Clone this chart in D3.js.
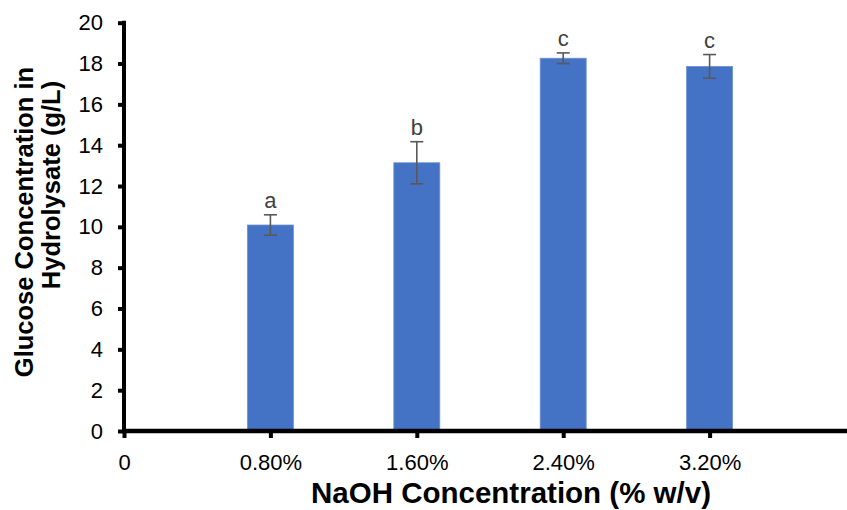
<!DOCTYPE html>
<html>
<head>
<meta charset="utf-8">
<script src="https://cdn.jsdelivr.net/npm/d3@7"></script>
<style>
  body { margin: 0; background: #fff; }
  text { font-family: "Liberation Sans", Arial, sans-serif; }
</style>
</head>
<body>
<div id="chart"></div>
<script>
// Chart data
var naoh = [0.8, 1.6, 2.4, 3.2];
var glucose = [10.09, 13.14, 18.26, 17.86];
var errors = [0.5, 1.03, 0.26, 0.58];
var letters = ["a", "b", "c", "c"];
var xTicks = [0, 0.8, 1.6, 2.4, 3.2];
var xTickLabels = ["0", "0.80%", "1.60%", "2.40%", "3.20%"];
var yTicks = [0, 2, 4, 6, 8, 10, 12, 14, 16, 18, 20];

var svgWidth = 847;
var svgHeight = 510;

var svg = d3.select("#chart")
  .append("svg")
  .attr("width", svgWidth)
  .attr("height", svgHeight);

// x is a linear scale, the axis runs off the right edge like the original
var xScale = d3.scaleLinear()
  .domain([0, 4])
  .range([124, 856]);

var yScale = d3.scaleLinear()
  .domain([0, 20])
  .range([431, 22.7]);

var barWidth = 46;

// bars
svg.selectAll(".bar")
  .data(naoh)
  .enter()
  .append("rect")
  .attr("class", "bar")
  .attr("x", (d) => xScale(d) - barWidth / 2)
  .attr("y", (d, i) => yScale(glucose[i]))
  .attr("width", barWidth)
  .attr("height", (d, i) => yScale(0) - yScale(glucose[i]))
  .attr("fill", "#4472c4")
  .attr("stroke", "#6f93d3")
  .attr("stroke-width", 0.8);

// error bars
var errGroup = svg.append("g")
  .attr("stroke", "#595959")
  .attr("stroke-width", 1.6);

naoh.forEach(function(d, i) {
  var cx = xScale(d);
  var top = yScale(glucose[i] + errors[i]);
  var bottom = yScale(glucose[i] - errors[i]);
  errGroup.append("line").attr("x1", cx).attr("x2", cx).attr("y1", top).attr("y2", bottom);
  errGroup.append("line").attr("x1", cx - 6.5).attr("x2", cx + 6.5).attr("y1", top).attr("y2", top);
  errGroup.append("line").attr("x1", cx - 6.5).attr("x2", cx + 6.5).attr("y1", bottom).attr("y2", bottom);
});

// significance letters
svg.selectAll(".letter")
  .data(letters)
  .enter()
  .append("text")
  .attr("x", (d, i) => xScale(naoh[i]))
  .attr("y", (d, i) => yScale(glucose[i] + errors[i]) - 7)
  .attr("text-anchor", "middle")
  .attr("font-size", "22px")
  .attr("fill", "#404040")
  .text((d) => d);

// y axis
var leftAxis = d3.axisLeft(yScale)
  .tickValues(yTicks)
  .tickSize(6)
  .tickPadding(15);

var yAxisG = svg.append("g")
  .attr("transform", "translate(124,0)")
  .call(leftAxis);
yAxisG.select(".domain").remove();
yAxisG.selectAll(".tick line").attr("stroke", "#000").attr("stroke-width", 4);
yAxisG.selectAll(".tick text")
  .attr("font-size", "22px")
  .attr("fill", "#000")
  .style("font-family", "Liberation Sans, Arial, sans-serif");
yAxisG.append("line")
  .attr("x1", 0).attr("x2", 0)
  .attr("y1", yScale(20) - 2).attr("y2", yScale(0) + 2)
  .attr("stroke", "#000").attr("stroke-width", 4);

// x axis
var bottomAxis = d3.axisBottom(xScale)
  .tickValues(xTicks)
  .tickFormat((d, i) => xTickLabels[i])
  .tickSize(7)
  .tickPadding(16);

var xAxisG = svg.append("g")
  .attr("transform", "translate(0,431)")
  .call(bottomAxis);
xAxisG.select(".domain").remove();
xAxisG.selectAll(".tick line").attr("stroke", "#000").attr("stroke-width", 4);
xAxisG.selectAll(".tick text")
  .attr("font-size", "22px")
  .attr("fill", "#000")
  .style("font-family", "Liberation Sans, Arial, sans-serif");
xAxisG.append("line")
  .attr("x1", 122).attr("x2", svgWidth)
  .attr("y1", 0).attr("y2", 0)
  .attr("stroke", "#000").attr("stroke-width", 4.5);

// axis titles
svg.append("text")
  .attr("x", 511)
  .attr("y", 503)
  .attr("text-anchor", "middle")
  .attr("font-size", "29.5px")
  .attr("font-weight", "bold")
  .text("NaOH Concentration (% w/v)");

svg.append("text")
  .attr("transform", "translate(33,222) rotate(-90)")
  .attr("text-anchor", "middle")
  .attr("font-size", "25.5px")
  .attr("font-weight", "bold")
  .text("Glucose Concentration in");

svg.append("text")
  .attr("transform", "translate(60,185) rotate(-90)")
  .attr("text-anchor", "middle")
  .attr("font-size", "25.5px")
  .attr("font-weight", "bold")
  .text("Hydrolysate (g/L)");
</script>
</body>
</html>
